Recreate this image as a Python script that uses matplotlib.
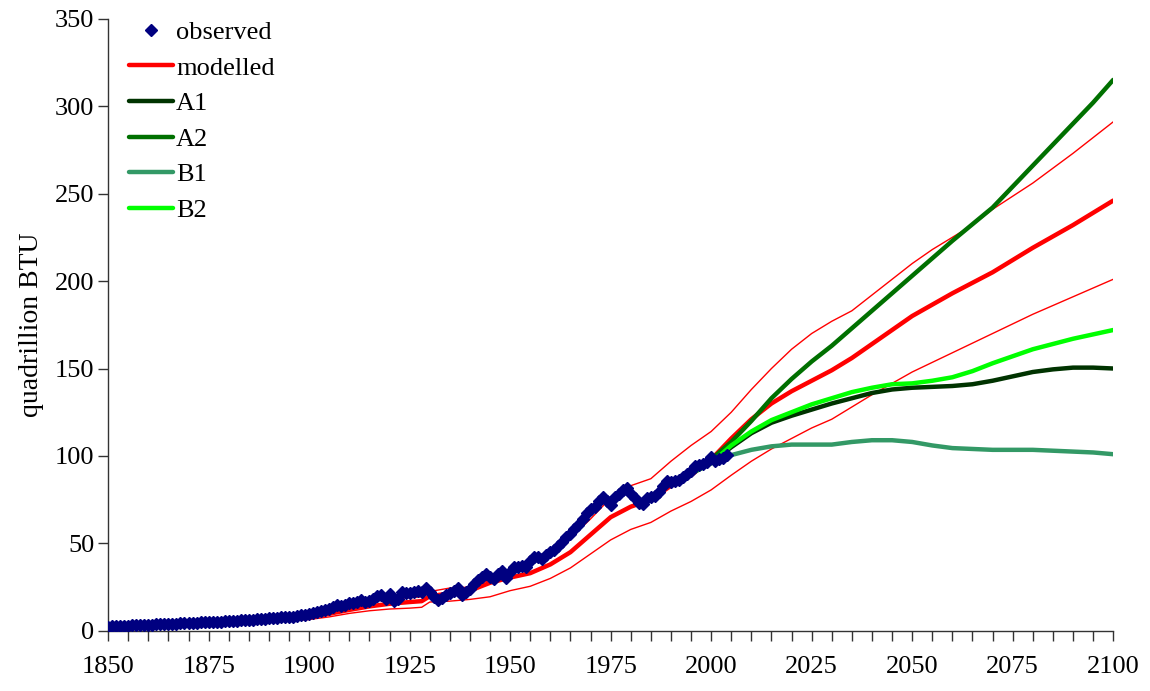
import matplotlib
matplotlib.use("Agg")
import matplotlib.pyplot as plt
from matplotlib.ticker import MultipleLocator
import numpy as np

# ---------------- data ----------------
obs_years = list(range(1850, 2005))
obs_values = [
    2.5, 2.6, 2.7, 2.8, 2.9, 3.0, 3.1, 3.2, 3.3, 3.4,
    3.5, 3.6, 3.7, 3.8, 3.9, 4.0, 4.1, 4.2, 4.3, 4.4,
    4.5, 4.6, 4.7, 4.8, 4.9, 5.0, 5.1, 5.2, 5.3, 5.4,
    5.5, 5.7, 5.9, 6.1, 6.2, 6.3, 6.5, 6.7, 6.9, 7.0,
    7.2, 7.4, 7.6, 7.7, 7.8, 8.0, 8.2, 8.5, 8.8, 9.3,
    9.8, 10.3, 10.8, 11.5, 12.0, 12.6, 13.5, 15.0, 14.0, 14.8,
    15.8, 16.0, 16.5, 17.5, 16.5, 17.0, 18.5, 20.0, 20.5, 18.0,
    21.0, 17.0, 18.5, 22.5, 21.5, 21.5, 22.0, 23.0, 22.5, 24.5,
    22.5, 19.5, 17.5, 19.0, 20.5, 21.5, 23.0, 24.5, 20.5, 22.0,
    24.0, 27.0, 29.0, 31.0, 32.5, 31.0, 29.5, 32.5, 34.0, 30.5,
    33.5, 36.5, 36.5, 37.0, 36.5, 40.0, 42.5, 42.5, 41.0, 43.5,
    45.0, 46.0, 48.5, 51.0, 53.5, 55.5, 58.5, 60.5, 64.0, 67.5,
    69.5, 71.0, 74.5, 76.5, 74.0, 72.0, 76.5, 78.5, 80.5, 81.5,
    78.5, 76.0, 73.0, 72.5, 76.0, 76.5, 77.0, 79.5, 83.0, 85.5,
    85.0, 85.5, 86.5, 88.0, 89.5, 91.5, 94.5, 95.0, 95.5, 96.5,
    99.5, 97.0, 98.0, 99.0, 100.5,
]

model_years = [1850, 1855, 1860, 1865, 1870, 1875, 1880, 1885, 1890, 1895,
               1900, 1905, 1910, 1915, 1920, 1925, 1928, 1930, 1935, 1940,
               1945, 1950, 1955, 1960, 1965, 1970, 1975, 1980, 1985, 1990,
               1995, 2000, 2005, 2010, 2015, 2020, 2025, 2030, 2035, 2040,
               2045, 2050, 2055, 2060, 2065, 2070, 2075, 2080, 2085, 2090,
               2095, 2100]
model_mid = [2.5, 2.8, 3.2, 3.6, 4.0, 4.5, 5.0, 5.6, 6.3, 7.0,
             8.0, 9.8, 12.0, 14.0, 15.5, 16.5, 17.0, 19.8, 21.5, 23.0,
             27.5, 30.5, 33.0, 38.0, 45.0, 55.0, 65.0, 71.0, 75.0, 83.0,
             89.0, 98.0, 110.0, 121.0, 130.0, 137.0, 143.0, 149.0, 156.0, 164.0,
             172.0, 180.0, 186.5, 193.0, 199.0, 205.0, 212.0, 219.0, 225.5, 232.0,
             239.0, 246.0]
model_upper = [3.0, 3.3, 3.7, 4.2, 4.7, 5.2, 5.8, 6.5, 7.3, 8.3,
               9.5, 11.5, 14.0, 16.5, 18.0, 19.0, 19.5, 22.5, 24.5, 25.0,
               29.0, 33.0, 38.0, 44.0, 53.0, 64.0, 76.0, 83.0, 87.0, 97.0,
               106.0, 114.0, 125.0, 138.0, 150.0, 161.0, 170.0, 177.0, 183.0, 192.0,
               201.0, 210.0, 218.0, 225.0, 232.0, 241.0, 248.5, 256.0, 264.5, 273.0,
               282.0, 291.0]
model_lower = [2.0, 2.3, 2.6, 2.9, 3.2, 3.6, 4.0, 4.5, 5.0, 5.7,
               6.5, 8.0, 10.0, 11.5, 12.5, 13.0, 13.5, 16.5, 17.0, 18.0,
               19.5, 23.0, 25.5, 30.0, 36.0, 44.0, 52.0, 58.0, 62.0, 68.5,
               74.0, 80.6, 89.0, 97.0, 104.0, 110.0, 116.0, 121.0, 128.0, 135.0,
               141.5, 148.0, 153.5, 159.0, 164.5, 170.0, 175.5, 181.0, 186.0, 191.0,
               196.0, 201.0]

scen_years = [1990, 2000, 2005, 2010, 2015, 2020, 2025, 2030, 2035, 2040, 2045,
              2050, 2055, 2060, 2065, 2070, 2075, 2080, 2085, 2090, 2095, 2100]
a1_values = [84, 96, 105, 113, 119, 123, 126.5, 130, 133, 136, 138,
             139, 139.5, 140, 141, 143, 145.5, 148, 149.5, 150.5, 150.5, 150]
a2_values = [84, 98, 108, 120, 133, 144, 154, 163, 173, 183, 193,
             203, 213, 223, 232.5, 242, 254, 266, 278, 290, 302, 315]
b1_values = [84, 96, 100.5, 103.5, 105.5, 106.5, 106.5, 106.5, 108, 109, 109,
             108, 106, 104.5, 104, 103.5, 103.5, 103.5, 103, 102.5, 102, 101]
b2_values = [84, 96, 106, 114, 120.5, 125, 129.5, 133, 136.5, 139, 141,
             141.5, 143, 145, 148.5, 153, 157, 161, 164, 167, 169.5, 172]

# ---------------- plot ----------------
plt.rcParams['font.family'] = ['Liberation Serif', 'DejaVu Serif']
plt.rcParams['font.size'] = 19

fig = plt.figure(figsize=(11.5, 6.91), dpi=100)
ax = fig.add_axes([0.094, 0.087, 0.874, 0.886])

ax.plot(model_years, model_upper, color='#ff0000', lw=1.0, zorder=2)
ax.plot(model_years, model_lower, color='#ff0000', lw=1.0, zorder=2)
ax.plot(model_years, model_mid, color='#ff0000', lw=3.2, solid_capstyle='round',
        label='modelled', zorder=3)
ax.plot(scen_years, a1_values, color='#003300', lw=3.2, solid_capstyle='round',
        label='A1', zorder=3)
ax.plot(scen_years, a2_values, color='#007000', lw=3.2, solid_capstyle='round',
        label='A2', zorder=3)
ax.plot(scen_years, b1_values, color='#339966', lw=3.2, solid_capstyle='round',
        label='B1', zorder=3)
ax.plot(scen_years, b2_values, color='#00ff00', lw=3.2, solid_capstyle='round',
        label='B2', zorder=3)
ax.plot(obs_years, obs_values, linestyle='none', marker='D', markersize=6.0,
        color='#000080', markeredgecolor='#000080', label='observed', zorder=5)

ax.set_xlim(1850, 2100)
ax.set_ylim(0, 350)
ax.xaxis.set_major_locator(MultipleLocator(25))
ax.xaxis.set_minor_locator(MultipleLocator(5))
ax.yaxis.set_major_locator(MultipleLocator(50))
ax.tick_params(axis='both', which='both', direction='out', length=7, width=1,
               colors='#333333', labelcolor='black', labelsize=19)
ax.tick_params(axis='x', pad=11)
ax.tick_params(axis='y', pad=3)
for s in ['top', 'right']:
    ax.spines[s].set_visible(False)
for s in ['left', 'bottom']:
    ax.spines[s].set_color('#333333')
    ax.spines[s].set_linewidth(1)

ax.set_ylabel('quadrillion BTU', fontsize=20, labelpad=8)

handles, labels = ax.get_legend_handles_labels()
order = ['observed', 'modelled', 'A1', 'A2', 'B1', 'B2']
hmap = dict(zip(labels, handles))
leg = ax.legend([hmap[k] for k in order], order, loc='upper left',
                bbox_to_anchor=(0.1073, 0.978), bbox_transform=fig.transFigure,
                frameon=False, fontsize=19, handlelength=1.67, handletextpad=0.12,
                labelspacing=0.46, borderpad=0.2, borderaxespad=0)

fig.savefig('out.png', dpi=100)
